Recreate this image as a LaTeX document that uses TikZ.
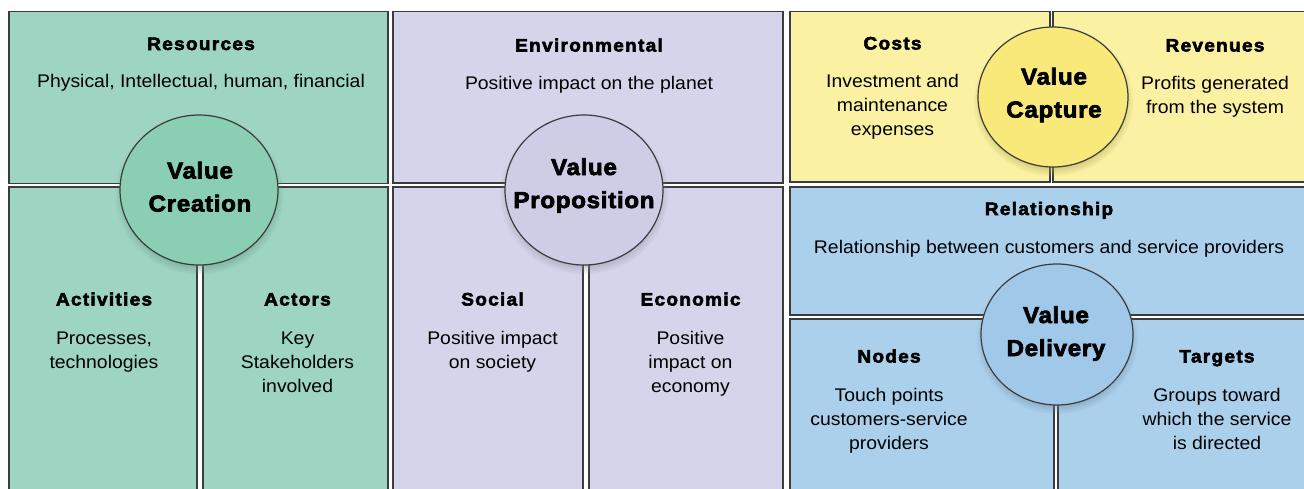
\documentclass[tikz,border=0pt]{standalone}
\usepackage{fontspec}
\setmainfont{Liberation Sans}[FakeStretch=1.06]
\newfontfamily\headfont{Liberation Sans Bold}[LetterSpace=7,FakeBold=3,FakeStretch=1.06]
\newfontfamily\circfont{Liberation Sans Bold}[LetterSpace=3,FakeBold=3,FakeStretch=1.05]
\usetikzlibrary{shapes.geometric,shadows,fadings}
\definecolor{gbox}{HTML}{9DD5C2}
\definecolor{gcir}{HTML}{8ACEB4}
\definecolor{pbox}{HTML}{D6D4EA}
\definecolor{pcir}{HTML}{CFCCE6}
\definecolor{ybox}{HTML}{FBF1A2}
\definecolor{ycir}{HTML}{F8E97A}
\definecolor{bbox}{HTML}{ABD0EC}
\definecolor{bcir}{HTML}{A0C8E9}
\definecolor{edgecol}{HTML}{3C3C3C}
\begin{document}
\begin{tikzpicture}[x=1pt,y=-1pt,
  box/.style={draw=edgecol, line width=1.3pt, anchor=north west, inner sep=0pt, outer sep=0pt},
  hd/.style={anchor=base, inner sep=0pt, font=\headfont\fontsize{18}{22}\selectfont},
  bd/.style={anchor=base, inner sep=0pt, align=center, font=\fontsize{18.3}{24}\selectfont},
  vcirc/.style={ellipse, draw=edgecol, line width=1.2pt, inner sep=0pt,
     circular drop shadow={shadow xshift=0pt, shadow yshift=-4pt, shadow scale=1.07, opacity=0.55, fill=#1!70!black}},
  ct/.style={anchor=base, inner sep=0pt, align=center, font=\circfont\fontsize{23}{33}\selectfont}]
\useasboundingbox (0,0) rectangle (1304,488);
\clip (0,0) rectangle (1304,488);
\fill[white] (0,0) rectangle (1304,488);
% ---- Value creation (green)
\node[box, fill=gbox, minimum width=379pt, minimum height=172pt] (res) at (9,11.5) {};
\node[box, fill=gbox, minimum width=188pt, minimum height=320pt] (act) at (9,187) {};
\node[box, fill=gbox, minimum width=185pt, minimum height=320pt] (actr) at (203,187) {};
% ---- Value proposition (purple)
\node[box, fill=pbox, minimum width=390pt, minimum height=171.5pt] (env) at (393,11.5) {};
\node[box, fill=pbox, minimum width=190pt, minimum height=320pt] (soc) at (393,187) {};
\node[box, fill=pbox, minimum width=194pt, minimum height=320pt] (eco) at (589,187) {};
% ---- Value capture (yellow)
\node[box, fill=ybox, minimum width=260pt, minimum height=170.5pt] (cost) at (790,11.5) {};
\node[box, fill=ybox, minimum width=260pt, minimum height=170.5pt] (rev) at (1053,11.5) {};
% ---- Value delivery (blue)
\node[box, fill=bbox, minimum width=520pt, minimum height=128pt] (rel) at (790,187) {};
\node[box, fill=bbox, minimum width=264pt, minimum height=200pt] (nod) at (790,319) {};
\node[box, fill=bbox, minimum width=260pt, minimum height=200pt] (tar) at (1058,319) {};
% ---- circles
\node[vcirc=gcir, fill=gcir, minimum width=158pt, minimum height=150pt] (vcr) at (199,190) {};
\node[vcirc=pcir, fill=pcir, minimum width=158pt, minimum height=150pt] (vpr) at (584,190) {};
\node[vcirc=ycir, fill=ycir, minimum width=150pt, minimum height=140pt] (vca) at (1053,97) {};
\node[vcirc=bcir, fill=bcir, minimum width=152pt, minimum height=141pt] (vde) at (1057,334.5) {};
% ---- circle texts (anchor = baseline of last line)
\node[ct] (tvcr) at (200,211.5) {Value\\Creation};
\node[ct] (tvpr) at (584,208) {Value\\Proposition};
\node[ct] (tvca) at (1054,117.5) {Value\\Capture};
\node[ct] (tvde) at (1056,356) {Value\\Delivery};
% ---- headings and texts (anchor = baseline of last line)
\node[hd] (h1) at (201,50) {Resources};
\node[bd] (b1) at (201,87.5) {Physical, Intellectual, human, financial};
\node[hd] (h2) at (104,305.5) {Activities};
\node[bd] (b2) at (104,368) {Processes,\\technologies};
\node[hd] (h3) at (297.5,305.5) {Actors};
\node[bd] (b3) at (297.5,392) {Key\\Stakeholders\\involved};
\node[hd] (h4) at (589,51.5) {Environmental};
\node[bd] (b4) at (589,89) {Positive impact on the planet};
\node[hd] (h5) at (492.5,305.5) {Social};
\node[bd] (b5) at (492.5,368) {Positive impact\\on society};
\node[hd] (h6) at (690.5,305.5) {Economic};
\node[bd] (b6) at (690.5,392) {Positive\\impact on\\economy};
\node[hd] (h7) at (892.5,49.5) {Costs};
\node[bd] (b7) at (892.5,135.5) {Investment and\\maintenance\\expenses};
\node[hd] (h8) at (1215,51.5) {Revenues};
\node[bd] (b8) at (1215,113.5) {Profits generated\\from the system};
\node[hd] (h9) at (1049,215) {Relationship};
\node[bd] (b9) at (1049,253.5) {Relationship between customers and service providers};
\node[hd] (h10) at (889,362.5) {Nodes};
\node[bd] (b10) at (889,449.5) {Touch points\\customers-service\\providers};
\node[hd] (h11) at (1217,362.5) {Targets};
\node[bd] (b11) at (1217,449.5) {Groups toward\\which the service\\is directed};
\end{tikzpicture}
\end{document}
